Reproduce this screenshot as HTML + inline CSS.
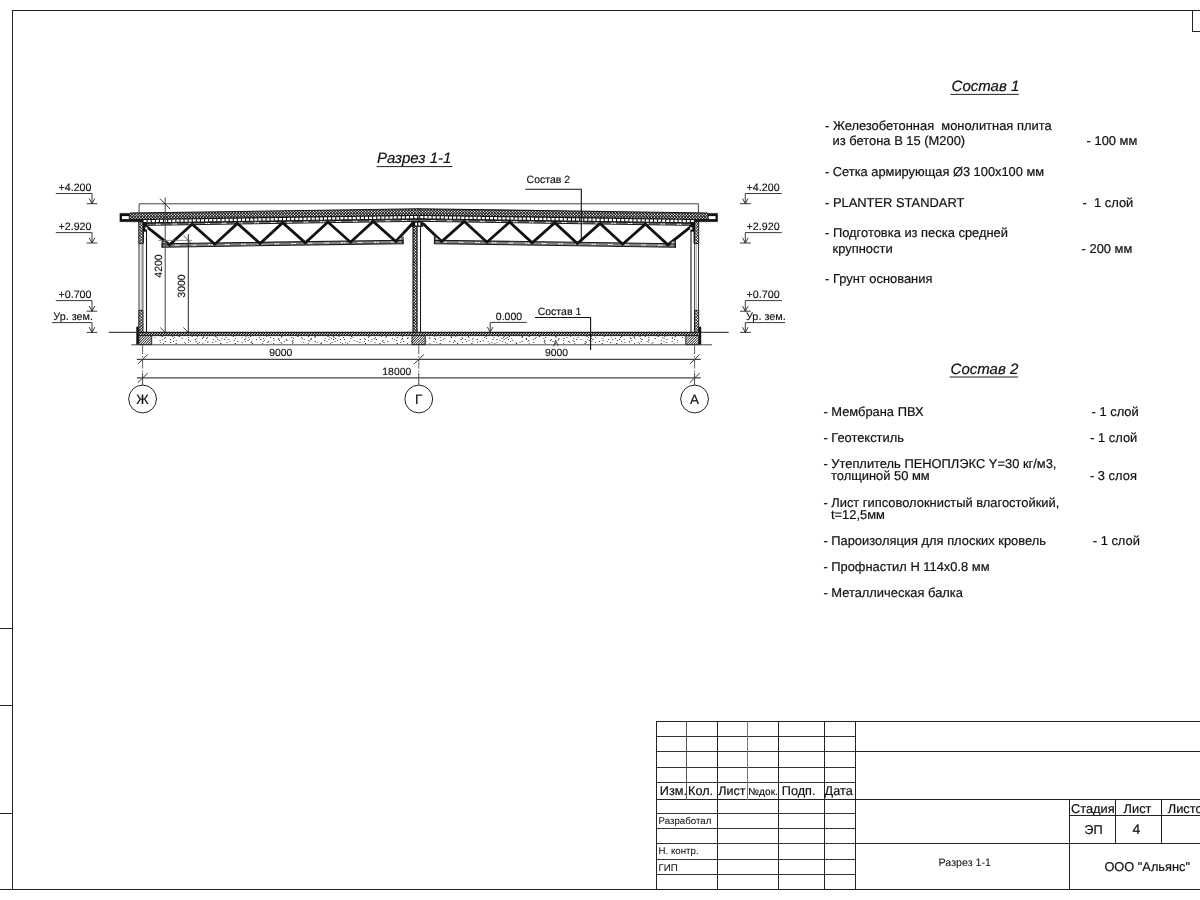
<!DOCTYPE html>
<html lang="ru"><head><meta charset="utf-8"><title>Разрез 1-1</title>
<style>html,body{margin:0;padding:0;background:#fff;}body{width:1200px;height:900px;overflow:hidden;}svg{display:block;}text{font-family:"Liberation Sans",Arial,sans-serif;fill:#111;text-rendering:geometricPrecision;stroke:#111;stroke-linejoin:round;}svg{will-change:transform;}</style>
</head><body>
<svg width="1200" height="900" viewBox="0 0 1200 900">
<defs>
<pattern id="xh" width="2.9" height="2.9" patternUnits="userSpaceOnUse"><rect width="2.9" height="2.9" fill="#111"/><path d="M1.45,-0.92L2.37,0.00L1.45,0.92L0.53,0.00ZM1.45,1.98L2.37,2.90L1.45,3.82L0.53,2.90ZM0.00,0.53L0.92,1.45L0.00,2.37L-0.92,1.45ZM2.90,0.53L3.82,1.45L2.90,2.37L1.98,1.45Z" fill="#fff"/></pattern>
<pattern id="pf" width="3.9" height="3" patternUnits="userSpaceOnUse"><rect width="3.9" height="3" fill="#1a1a1a"/><rect x="0.6" y="0" width="2.7" height="3" fill="#fff"/></pattern>
<pattern id="dh" width="2.4" height="2.4" patternUnits="userSpaceOnUse"><rect width="2.4" height="2.4" fill="#fff"/><path d="M-0.5,2.9L2.9,-0.5M-0.5,0.5L0.5,-0.5M1.9,2.9L2.9,1.9" stroke="#111" stroke-width="1.0"/></pattern>
<pattern id="fh" width="2.2" height="2.2" patternUnits="userSpaceOnUse"><rect width="2.2" height="2.2" fill="#fff"/><path d="M-0.5,2.7L2.7,-0.5M-0.5,0.5L0.5,-0.5M1.7,2.7L2.7,1.7" stroke="#222" stroke-width="0.75"/></pattern>
<pattern id="sd" width="60" height="9" patternUnits="userSpaceOnUse"><rect width="60" height="9" fill="#fff"/><g fill="#444"><circle cx="19.4" cy="1.8" r="0.35"/><circle cx="4.3" cy="4.8" r="0.5"/><circle cx="35.0" cy="7.7" r="0.4"/><circle cx="2.2" cy="4.0" r="0.35"/><circle cx="14.4" cy="4.9" r="0.35"/><circle cx="49.6" cy="1.6" r="0.4"/><circle cx="37.8" cy="5.1" r="0.35"/><circle cx="34.6" cy="3.7" r="0.4"/><circle cx="2.8" cy="7.3" r="0.5"/><circle cx="25.1" cy="4.8" r="0.5"/><circle cx="33.6" cy="5.9" r="0.35"/><circle cx="34.9" cy="5.6" r="0.5"/><circle cx="5.8" cy="6.2" r="0.35"/><circle cx="37.1" cy="4.5" r="0.55"/><circle cx="46.6" cy="4.2" r="0.55"/><circle cx="21.7" cy="2.5" r="0.4"/><circle cx="41.9" cy="2.5" r="0.5"/><circle cx="31.5" cy="7.4" r="0.55"/><circle cx="17.3" cy="8.2" r="0.35"/><circle cx="30.7" cy="1.9" r="0.5"/><circle cx="9.1" cy="4.4" r="0.35"/><circle cx="57.7" cy="1.2" r="0.5"/><circle cx="20.4" cy="3.3" r="0.55"/><circle cx="34.8" cy="4.2" r="0.35"/><circle cx="56.7" cy="4.3" r="0.35"/><circle cx="3.6" cy="6.1" r="0.55"/><circle cx="17.1" cy="3.6" r="0.5"/><circle cx="1.4" cy="4.2" r="0.4"/><circle cx="36.7" cy="4.5" r="0.4"/><circle cx="46.1" cy="1.6" r="0.4"/><circle cx="23.9" cy="7.8" r="0.55"/><circle cx="4.8" cy="4.1" r="0.5"/><circle cx="53.0" cy="7.0" r="0.5"/><circle cx="42.4" cy="8.3" r="0.55"/><circle cx="57.5" cy="1.8" r="0.4"/><circle cx="9.1" cy="5.7" r="0.35"/><circle cx="29.1" cy="5.2" r="0.5"/><circle cx="16.9" cy="1.7" r="0.5"/><circle cx="36.6" cy="3.1" r="0.4"/><circle cx="41.4" cy="4.6" r="0.35"/><circle cx="27.4" cy="7.4" r="0.55"/><circle cx="23.9" cy="3.7" r="0.55"/><circle cx="38.1" cy="1.1" r="0.35"/><circle cx="59.1" cy="4.0" r="0.35"/><circle cx="20.4" cy="1.0" r="0.35"/><circle cx="34.0" cy="4.8" r="0.5"/><circle cx="36.8" cy="1.1" r="0.4"/><circle cx="36.8" cy="1.8" r="0.5"/><circle cx="57.3" cy="5.3" r="0.55"/><circle cx="7.4" cy="7.2" r="0.55"/><circle cx="28.8" cy="3.0" r="0.4"/><circle cx="6.1" cy="3.3" r="0.5"/><circle cx="28.7" cy="6.0" r="0.35"/><circle cx="12.3" cy="8.0" r="0.5"/><circle cx="8.8" cy="4.8" r="0.35"/><circle cx="45.5" cy="2.9" r="0.35"/><circle cx="41.8" cy="2.6" r="0.5"/><circle cx="54.5" cy="3.4" r="0.4"/><circle cx="32.0" cy="6.7" r="0.5"/><circle cx="38.2" cy="5.4" r="0.4"/><circle cx="48.4" cy="7.0" r="0.4"/><circle cx="12.0" cy="4.4" r="0.35"/><circle cx="59.4" cy="6.8" r="0.55"/><circle cx="15.6" cy="6.0" r="0.5"/><circle cx="26.8" cy="7.9" r="0.5"/><circle cx="57.3" cy="3.4" r="0.4"/><circle cx="6.1" cy="4.3" r="0.5"/><circle cx="12.3" cy="5.5" r="0.35"/><circle cx="28.8" cy="5.7" r="0.35"/><circle cx="50.1" cy="1.5" r="0.55"/></g></pattern>
</defs>
<rect width="1200" height="900" fill="#fff"/>
<g id="frame" shape-rendering="crispEdges">
<line x1="12.50" y1="10.00" x2="12.50" y2="890.00" stroke="#222" stroke-width="1" />
<line x1="12.00" y1="10.50" x2="1200.00" y2="10.50" stroke="#222" stroke-width="1" />
<line x1="0.00" y1="889.50" x2="1200.00" y2="889.50" stroke="#222" stroke-width="1" />
<line x1="0.00" y1="628.50" x2="12.50" y2="628.50" stroke="#222" stroke-width="1" />
<line x1="0.00" y1="705.50" x2="12.50" y2="705.50" stroke="#222" stroke-width="1" />
<line x1="0.00" y1="813.50" x2="12.50" y2="813.50" stroke="#222" stroke-width="1" />
<line x1="1192.50" y1="10.50" x2="1192.50" y2="32.00" stroke="#222" stroke-width="1" />
<line x1="1192.00" y1="31.50" x2="1200.00" y2="31.50" stroke="#222" stroke-width="1" />
</g>
<g id="section">
<g id="halfL">
<clipPath id="c1"><polygon points="129.80,213.06 419.05,208.75 419.05,215.50 129.80,219.81"/></clipPath>
<g clip-path="url(#c1)">
<polygon points="129.80,213.06 419.05,208.75 419.05,215.50 129.80,219.81" fill="#fff"/>
<line x1="116.74" y1="214.28" x2="432.11" y2="214.28" stroke="#111" stroke-width="13.06" stroke-dasharray="1.18 1.720" stroke-dashoffset="2.495" transform="translate(0,214.28) skewX(45) translate(0,-214.28)"/>
<line x1="116.74" y1="214.28" x2="432.11" y2="214.28" stroke="#111" stroke-width="13.06" stroke-dasharray="1.18 1.720" stroke-dashoffset="2.495" transform="translate(0,214.28) skewX(-45) translate(0,-214.28)"/>
</g>
<line x1="129.80" y1="213.06" x2="418.95" y2="208.75" stroke="#1a1a1a" stroke-width="1.1" />
<line x1="129.80" y1="219.81" x2="418.95" y2="215.50" stroke="#1a1a1a" stroke-width="1.0" />
<polygon points="119.80,213.30 129.80,213.30 129.80,221.80 119.80,221.80" fill="#111" stroke="#1a1a1a" stroke-width="0.3" />
<rect x="122.00" y="216.10" width="6.80" height="3.00" fill="#fff" stroke="none" stroke-width="0" />
<polygon points="129.80,219.31 139.00,219.17 139.00,221.80 129.80,221.80" fill="#111" stroke="#1a1a1a" stroke-width="0.5" />
<polygon points="139.00,219.17 418.75,215.00 418.75,219.35 139.00,223.52" fill="#151515" stroke="#1a1a1a" stroke-width="0.4" />
<line x1="143.60" y1="221.20" x2="418.75" y2="217.10" stroke="#fff" stroke-width="2.3000000000000114" stroke-dasharray="3 1.1"/>
<polygon points="146.00,223.41 418.75,219.35 418.75,221.30 146.00,225.36" fill="#808080" stroke="#1a1a1a" stroke-width="1.0" />
<line x1="156.00" y1="224.24" x2="160.60" y2="224.17" stroke="#fff" stroke-width="1.0" stroke-dasharray="2 0.6"/>
<line x1="172.40" y1="224.00" x2="177.00" y2="223.93" stroke="#fff" stroke-width="1.0" stroke-dasharray="2 0.6"/>
<line x1="188.80" y1="223.75" x2="193.40" y2="223.68" stroke="#fff" stroke-width="1.0" stroke-dasharray="2 0.6"/>
<line x1="205.20" y1="223.51" x2="209.80" y2="223.44" stroke="#fff" stroke-width="1.0" stroke-dasharray="2 0.6"/>
<line x1="221.60" y1="223.26" x2="226.20" y2="223.19" stroke="#fff" stroke-width="1.0" stroke-dasharray="2 0.6"/>
<line x1="238.00" y1="223.02" x2="242.60" y2="222.95" stroke="#fff" stroke-width="1.0" stroke-dasharray="2 0.6"/>
<line x1="254.40" y1="222.77" x2="259.00" y2="222.71" stroke="#fff" stroke-width="1.0" stroke-dasharray="2 0.6"/>
<line x1="270.80" y1="222.53" x2="275.40" y2="222.46" stroke="#fff" stroke-width="1.0" stroke-dasharray="2 0.6"/>
<line x1="287.20" y1="222.29" x2="291.80" y2="222.22" stroke="#fff" stroke-width="1.0" stroke-dasharray="2 0.6"/>
<line x1="303.60" y1="222.04" x2="308.20" y2="221.97" stroke="#fff" stroke-width="1.0" stroke-dasharray="2 0.6"/>
<line x1="320.00" y1="221.80" x2="324.60" y2="221.73" stroke="#fff" stroke-width="1.0" stroke-dasharray="2 0.6"/>
<line x1="336.40" y1="221.55" x2="341.00" y2="221.48" stroke="#fff" stroke-width="1.0" stroke-dasharray="2 0.6"/>
<line x1="352.80" y1="221.31" x2="357.40" y2="221.24" stroke="#fff" stroke-width="1.0" stroke-dasharray="2 0.6"/>
<line x1="369.20" y1="221.06" x2="373.80" y2="220.99" stroke="#fff" stroke-width="1.0" stroke-dasharray="2 0.6"/>
<line x1="385.60" y1="220.82" x2="390.20" y2="220.75" stroke="#fff" stroke-width="1.0" stroke-dasharray="2 0.6"/>
<line x1="402.00" y1="220.57" x2="406.60" y2="220.51" stroke="#fff" stroke-width="1.0" stroke-dasharray="2 0.6"/>
<polygon points="162.20,243.79 403.00,240.20 403.00,243.60 162.20,247.19" fill="#808080" stroke="#1a1a1a" stroke-width="1.1" />
<line x1="175.00" y1="245.30" x2="179.60" y2="245.23" stroke="#fff" stroke-width="1.0" stroke-dasharray="2 0.6"/>
<line x1="191.60" y1="245.05" x2="196.20" y2="244.98" stroke="#fff" stroke-width="1.0" stroke-dasharray="2 0.6"/>
<line x1="208.20" y1="244.80" x2="212.80" y2="244.73" stroke="#fff" stroke-width="1.0" stroke-dasharray="2 0.6"/>
<line x1="224.80" y1="244.56" x2="229.40" y2="244.49" stroke="#fff" stroke-width="1.0" stroke-dasharray="2 0.6"/>
<line x1="241.40" y1="244.31" x2="246.00" y2="244.24" stroke="#fff" stroke-width="1.0" stroke-dasharray="2 0.6"/>
<line x1="258.00" y1="244.06" x2="262.60" y2="243.99" stroke="#fff" stroke-width="1.0" stroke-dasharray="2 0.6"/>
<line x1="274.60" y1="243.81" x2="279.20" y2="243.74" stroke="#fff" stroke-width="1.0" stroke-dasharray="2 0.6"/>
<line x1="291.20" y1="243.57" x2="295.80" y2="243.50" stroke="#fff" stroke-width="1.0" stroke-dasharray="2 0.6"/>
<line x1="307.80" y1="243.32" x2="312.40" y2="243.25" stroke="#fff" stroke-width="1.0" stroke-dasharray="2 0.6"/>
<line x1="324.40" y1="243.07" x2="329.00" y2="243.00" stroke="#fff" stroke-width="1.0" stroke-dasharray="2 0.6"/>
<line x1="341.00" y1="242.82" x2="345.60" y2="242.76" stroke="#fff" stroke-width="1.0" stroke-dasharray="2 0.6"/>
<line x1="357.60" y1="242.58" x2="362.20" y2="242.51" stroke="#fff" stroke-width="1.0" stroke-dasharray="2 0.6"/>
<line x1="374.20" y1="242.33" x2="378.80" y2="242.26" stroke="#fff" stroke-width="1.0" stroke-dasharray="2 0.6"/>
<line x1="390.80" y1="242.08" x2="395.40" y2="242.01" stroke="#fff" stroke-width="1.0" stroke-dasharray="2 0.6"/>
<line x1="162.20" y1="240.59" x2="162.20" y2="247.59" stroke="#1a1a1a" stroke-width="1.2" />
<line x1="403.00" y1="236.80" x2="403.00" y2="244.00" stroke="#1a1a1a" stroke-width="1.2" />
<polyline points="146.60,226.60 169.60,244.88 192.20,224.08 214.84,244.20 237.44,223.40 260.08,243.53 282.68,222.73 305.32,242.86 327.92,222.05 350.56,242.18 373.16,221.38 395.80,241.51 412.60,223.30" fill="none" stroke="#111" stroke-width="2.8" stroke-linejoin="miter"/>
<polygon points="163.60,243.47 167.60,243.41 163.60,240.57" fill="#fff" stroke="#1a1a1a" stroke-width="0.6" />
<polygon points="401.80,239.90 397.80,239.90 401.80,237.00" fill="#fff" stroke="#1a1a1a" stroke-width="0.6" />
<clipPath id="c2"><polygon points="138.80,221.80 143.00,221.80 143.00,243.60 138.80,243.60"/></clipPath>
<g clip-path="url(#c2)">
<polygon points="138.80,221.80 143.00,221.80 143.00,243.60 138.80,243.60" fill="#fff"/>
<line x1="115.00" y1="232.70" x2="166.80" y2="232.70" stroke="#111" stroke-width="23.80" stroke-dasharray="0.9 2.000" stroke-dashoffset="1.700" transform="translate(0,232.70) skewX(45) translate(0,-232.70)"/>
<line x1="115.00" y1="232.70" x2="166.80" y2="232.70" stroke="#111" stroke-width="23.80" stroke-dasharray="0.9 2.000" stroke-dashoffset="1.700" transform="translate(0,232.70) skewX(-45) translate(0,-232.70)"/>
</g>
<polygon points="138.80,221.80 143.00,221.80 143.00,243.60 138.80,243.60" fill="none" stroke="#1a1a1a" stroke-width="1.0"/>
<clipPath id="c3"><polygon points="138.80,310.40 143.00,310.40 143.00,332.40 138.80,332.40"/></clipPath>
<g clip-path="url(#c3)">
<polygon points="138.80,310.40 143.00,310.40 143.00,332.40 138.80,332.40" fill="#fff"/>
<line x1="114.80" y1="321.40" x2="167.00" y2="321.40" stroke="#111" stroke-width="24.00" stroke-dasharray="0.9 2.000" stroke-dashoffset="1.500" transform="translate(0,321.40) skewX(45) translate(0,-321.40)"/>
<line x1="114.80" y1="321.40" x2="167.00" y2="321.40" stroke="#111" stroke-width="24.00" stroke-dasharray="0.9 2.000" stroke-dashoffset="1.500" transform="translate(0,321.40) skewX(-45) translate(0,-321.40)"/>
</g>
<polygon points="138.80,310.40 143.00,310.40 143.00,332.40 138.80,332.40" fill="none" stroke="#1a1a1a" stroke-width="1.0"/>
<line x1="139.00" y1="243.50" x2="139.00" y2="310.50" stroke="#1a1a1a" stroke-width="0.9" />
<line x1="141.20" y1="243.50" x2="141.20" y2="310.50" stroke="#777" stroke-width="0.6" />
<line x1="142.90" y1="243.50" x2="142.90" y2="310.50" stroke="#333" stroke-width="0.9" />
<line x1="146.50" y1="231.00" x2="146.50" y2="332.30" stroke="#1a1a1a" stroke-width="1.1" />
<line x1="143.50" y1="231.00" x2="143.50" y2="243.50" stroke="#1a1a1a" stroke-width="0.9" />
<rect x="143.00" y="222.20" width="3.80" height="9.30" fill="#111" stroke="#1a1a1a" stroke-width="0.4" />
<rect x="145.20" y="227.30" width="2.20" height="2.20" fill="#fff" stroke="none" stroke-width="0" />
<rect x="136.30" y="327.60" width="2.60" height="17.20" fill="#111" stroke="none" stroke-width="0" />
<circle cx="137.4" cy="327.6" r="1.1" fill="#111"/>
<line x1="108.80" y1="332.30" x2="136.50" y2="332.30" stroke="#1a1a1a" stroke-width="1" />
<clipPath id="c4"><polygon points="139.00,332.30 418.75,332.30 418.75,335.60 139.00,335.60"/></clipPath>
<g clip-path="url(#c4)">
<polygon points="139.00,332.30 418.75,332.30 418.75,335.60 139.00,335.60" fill="#111"/>
<line x1="133.70" y1="333.95" x2="424.05" y2="333.95" stroke="#fff" stroke-width="5.30" stroke-dasharray="1.0 1.700" stroke-dashoffset="1.150" transform="translate(0,333.95) skewX(-45) translate(0,-333.95)"/>
</g>
<line x1="139.00" y1="332.40" x2="418.75" y2="332.40" stroke="#1a1a1a" stroke-width="1.2" />
<line x1="139.00" y1="335.60" x2="418.75" y2="335.60" stroke="#1a1a1a" stroke-width="1.0" />
<line x1="151.8" y1="336.50" x2="418.8" y2="336.50" stroke="#333" stroke-width="1.0" stroke-dasharray="1.2 15.1 1.2 9.3 1.0 5.6 1.2 11.8 1.0 4.3 1.0 5.0 0.8 11.3 1.2 16.5 1.0 11.7 0.8 3.8 1.0 15.3 0.8 13.9" stroke-dashoffset="6.5"/>
<line x1="151.8" y1="337.50" x2="418.8" y2="337.50" stroke="#333" stroke-width="0.9" stroke-dasharray="1.0 10.3 1.0 10.0 0.8 9.4 1.0 8.7 0.8 12.9 1.0 13.6 1.0 3.4 0.8 8.6 1.0 8.4 0.8 14.9 0.8 6.0 0.8 9.6" stroke-dashoffset="19.6"/>
<line x1="151.8" y1="338.50" x2="418.8" y2="338.50" stroke="#333" stroke-width="0.9" stroke-dasharray="1.2 4.0 1.0 13.9 1.0 7.7 1.0 7.7 1.2 13.6 0.8 4.9 0.8 3.2 1.2 14.2 1.0 12.5 1.0 9.3 1.0 16.8 1.0 8.9" stroke-dashoffset="7.7"/>
<line x1="151.8" y1="339.50" x2="418.8" y2="339.50" stroke="#333" stroke-width="1.0" stroke-dasharray="1.2 16.9 0.8 6.8 1.0 17.0 0.8 5.9 1.2 16.9 0.8 3.6 1.0 6.0 1.0 3.1 1.0 14.6 1.2 4.0 0.8 5.9 1.0 3.2" stroke-dashoffset="7.4"/>
<line x1="151.8" y1="340.50" x2="418.8" y2="340.50" stroke="#333" stroke-width="0.9" stroke-dasharray="1.2 4.8 1.2 14.7 1.0 15.1 1.0 11.8 1.0 15.7 1.0 13.2 1.0 13.4 1.0 12.6 1.2 15.4 0.8 8.9 0.8 4.5 1.0 6.3" stroke-dashoffset="14.1"/>
<line x1="151.8" y1="341.50" x2="418.8" y2="341.50" stroke="#333" stroke-width="0.9" stroke-dasharray="1.2 14.5 1.2 7.1 1.0 16.0 0.8 4.8 1.2 10.8 0.8 6.9 1.0 13.5 0.8 6.8 1.2 6.5 0.8 5.5 1.0 10.4 1.0 4.3" stroke-dashoffset="2.8"/>
<line x1="151.8" y1="342.50" x2="418.8" y2="342.50" stroke="#333" stroke-width="0.9" stroke-dasharray="1.0 12.2 1.0 11.3 0.8 9.6 1.0 12.8 0.8 3.3 0.8 9.8 1.0 7.5 0.8 4.1 1.0 13.3 1.0 14.1 1.0 7.9 1.2 15.6" stroke-dashoffset="17.4"/>
<line x1="151.8" y1="343.50" x2="418.8" y2="343.50" stroke="#333" stroke-width="1.0" stroke-dasharray="0.8 15.1 0.8 11.7 1.2 8.3 0.8 11.5 0.8 4.3 0.8 16.9 1.2 13.2 1.2 16.1 1.2 9.2 0.8 10.3 0.8 7.3 0.8 9.7" stroke-dashoffset="4.6"/>
<clipPath id="c5"><polygon points="138.90,335.60 151.70,335.60 151.70,344.60 138.90,344.60"/></clipPath>
<g clip-path="url(#c5)">
<polygon points="138.90,335.60 151.70,335.60 151.70,344.60 138.90,344.60" fill="#fff"/>
<line x1="127.90" y1="340.10" x2="162.70" y2="340.10" stroke="#222" stroke-width="11.00" stroke-dasharray="1.1 1.400" stroke-dashoffset="1.400" transform="translate(0,340.10) skewX(-45) translate(0,-340.10)"/>
</g>
<polygon points="138.90,335.60 151.70,335.60 151.70,344.60 138.90,344.60" fill="none" stroke="#1a1a1a" stroke-width="0.9"/>
<line x1="131.30" y1="344.80" x2="418.75" y2="344.80" stroke="#333" stroke-width="0.9" />
</g>
<g id="halfR" transform="translate(837.50,0) scale(-1,1)">
<clipPath id="c6"><polygon points="129.80,213.06 419.05,208.75 419.05,215.50 129.80,219.81"/></clipPath>
<g clip-path="url(#c6)">
<polygon points="129.80,213.06 419.05,208.75 419.05,215.50 129.80,219.81" fill="#fff"/>
<line x1="116.74" y1="214.28" x2="432.11" y2="214.28" stroke="#111" stroke-width="13.06" stroke-dasharray="1.18 1.720" stroke-dashoffset="2.495" transform="translate(0,214.28) skewX(45) translate(0,-214.28)"/>
<line x1="116.74" y1="214.28" x2="432.11" y2="214.28" stroke="#111" stroke-width="13.06" stroke-dasharray="1.18 1.720" stroke-dashoffset="2.495" transform="translate(0,214.28) skewX(-45) translate(0,-214.28)"/>
</g>
<line x1="129.80" y1="213.06" x2="418.95" y2="208.75" stroke="#1a1a1a" stroke-width="1.1" />
<line x1="129.80" y1="219.81" x2="418.95" y2="215.50" stroke="#1a1a1a" stroke-width="1.0" />
<polygon points="119.80,213.30 129.80,213.30 129.80,221.80 119.80,221.80" fill="#111" stroke="#1a1a1a" stroke-width="0.3" />
<rect x="122.00" y="216.10" width="6.80" height="3.00" fill="#fff" stroke="none" stroke-width="0" />
<polygon points="129.80,219.31 139.00,219.17 139.00,221.80 129.80,221.80" fill="#111" stroke="#1a1a1a" stroke-width="0.5" />
<polygon points="139.00,219.17 418.75,215.00 418.75,219.35 139.00,223.52" fill="#151515" stroke="#1a1a1a" stroke-width="0.4" />
<line x1="143.60" y1="221.20" x2="418.75" y2="217.10" stroke="#fff" stroke-width="2.3000000000000114" stroke-dasharray="3 1.1"/>
<polygon points="146.00,223.41 418.75,219.35 418.75,221.30 146.00,225.36" fill="#808080" stroke="#1a1a1a" stroke-width="1.0" />
<line x1="156.00" y1="224.24" x2="160.60" y2="224.17" stroke="#fff" stroke-width="1.0" stroke-dasharray="2 0.6"/>
<line x1="172.40" y1="224.00" x2="177.00" y2="223.93" stroke="#fff" stroke-width="1.0" stroke-dasharray="2 0.6"/>
<line x1="188.80" y1="223.75" x2="193.40" y2="223.68" stroke="#fff" stroke-width="1.0" stroke-dasharray="2 0.6"/>
<line x1="205.20" y1="223.51" x2="209.80" y2="223.44" stroke="#fff" stroke-width="1.0" stroke-dasharray="2 0.6"/>
<line x1="221.60" y1="223.26" x2="226.20" y2="223.19" stroke="#fff" stroke-width="1.0" stroke-dasharray="2 0.6"/>
<line x1="238.00" y1="223.02" x2="242.60" y2="222.95" stroke="#fff" stroke-width="1.0" stroke-dasharray="2 0.6"/>
<line x1="254.40" y1="222.77" x2="259.00" y2="222.71" stroke="#fff" stroke-width="1.0" stroke-dasharray="2 0.6"/>
<line x1="270.80" y1="222.53" x2="275.40" y2="222.46" stroke="#fff" stroke-width="1.0" stroke-dasharray="2 0.6"/>
<line x1="287.20" y1="222.29" x2="291.80" y2="222.22" stroke="#fff" stroke-width="1.0" stroke-dasharray="2 0.6"/>
<line x1="303.60" y1="222.04" x2="308.20" y2="221.97" stroke="#fff" stroke-width="1.0" stroke-dasharray="2 0.6"/>
<line x1="320.00" y1="221.80" x2="324.60" y2="221.73" stroke="#fff" stroke-width="1.0" stroke-dasharray="2 0.6"/>
<line x1="336.40" y1="221.55" x2="341.00" y2="221.48" stroke="#fff" stroke-width="1.0" stroke-dasharray="2 0.6"/>
<line x1="352.80" y1="221.31" x2="357.40" y2="221.24" stroke="#fff" stroke-width="1.0" stroke-dasharray="2 0.6"/>
<line x1="369.20" y1="221.06" x2="373.80" y2="220.99" stroke="#fff" stroke-width="1.0" stroke-dasharray="2 0.6"/>
<line x1="385.60" y1="220.82" x2="390.20" y2="220.75" stroke="#fff" stroke-width="1.0" stroke-dasharray="2 0.6"/>
<line x1="402.00" y1="220.57" x2="406.60" y2="220.51" stroke="#fff" stroke-width="1.0" stroke-dasharray="2 0.6"/>
<polygon points="162.20,243.79 403.00,240.20 403.00,243.60 162.20,247.19" fill="#808080" stroke="#1a1a1a" stroke-width="1.1" />
<line x1="175.00" y1="245.30" x2="179.60" y2="245.23" stroke="#fff" stroke-width="1.0" stroke-dasharray="2 0.6"/>
<line x1="191.60" y1="245.05" x2="196.20" y2="244.98" stroke="#fff" stroke-width="1.0" stroke-dasharray="2 0.6"/>
<line x1="208.20" y1="244.80" x2="212.80" y2="244.73" stroke="#fff" stroke-width="1.0" stroke-dasharray="2 0.6"/>
<line x1="224.80" y1="244.56" x2="229.40" y2="244.49" stroke="#fff" stroke-width="1.0" stroke-dasharray="2 0.6"/>
<line x1="241.40" y1="244.31" x2="246.00" y2="244.24" stroke="#fff" stroke-width="1.0" stroke-dasharray="2 0.6"/>
<line x1="258.00" y1="244.06" x2="262.60" y2="243.99" stroke="#fff" stroke-width="1.0" stroke-dasharray="2 0.6"/>
<line x1="274.60" y1="243.81" x2="279.20" y2="243.74" stroke="#fff" stroke-width="1.0" stroke-dasharray="2 0.6"/>
<line x1="291.20" y1="243.57" x2="295.80" y2="243.50" stroke="#fff" stroke-width="1.0" stroke-dasharray="2 0.6"/>
<line x1="307.80" y1="243.32" x2="312.40" y2="243.25" stroke="#fff" stroke-width="1.0" stroke-dasharray="2 0.6"/>
<line x1="324.40" y1="243.07" x2="329.00" y2="243.00" stroke="#fff" stroke-width="1.0" stroke-dasharray="2 0.6"/>
<line x1="341.00" y1="242.82" x2="345.60" y2="242.76" stroke="#fff" stroke-width="1.0" stroke-dasharray="2 0.6"/>
<line x1="357.60" y1="242.58" x2="362.20" y2="242.51" stroke="#fff" stroke-width="1.0" stroke-dasharray="2 0.6"/>
<line x1="374.20" y1="242.33" x2="378.80" y2="242.26" stroke="#fff" stroke-width="1.0" stroke-dasharray="2 0.6"/>
<line x1="390.80" y1="242.08" x2="395.40" y2="242.01" stroke="#fff" stroke-width="1.0" stroke-dasharray="2 0.6"/>
<line x1="162.20" y1="240.59" x2="162.20" y2="247.59" stroke="#1a1a1a" stroke-width="1.2" />
<line x1="403.00" y1="236.80" x2="403.00" y2="244.00" stroke="#1a1a1a" stroke-width="1.2" />
<polyline points="146.60,226.60 169.60,244.88 192.20,224.08 214.84,244.20 237.44,223.40 260.08,243.53 282.68,222.73 305.32,242.86 327.92,222.05 350.56,242.18 373.16,221.38 395.80,241.51 414.80,223.30" fill="none" stroke="#111" stroke-width="2.8" stroke-linejoin="miter"/>
<polygon points="163.60,243.47 167.60,243.41 163.60,240.57" fill="#fff" stroke="#1a1a1a" stroke-width="0.6" />
<polygon points="401.80,239.90 397.80,239.90 401.80,237.00" fill="#fff" stroke="#1a1a1a" stroke-width="0.6" />
<clipPath id="c7"><polygon points="138.80,221.80 143.00,221.80 143.00,243.60 138.80,243.60"/></clipPath>
<g clip-path="url(#c7)">
<polygon points="138.80,221.80 143.00,221.80 143.00,243.60 138.80,243.60" fill="#fff"/>
<line x1="115.00" y1="232.70" x2="166.80" y2="232.70" stroke="#111" stroke-width="23.80" stroke-dasharray="0.9 2.000" stroke-dashoffset="1.700" transform="translate(0,232.70) skewX(45) translate(0,-232.70)"/>
<line x1="115.00" y1="232.70" x2="166.80" y2="232.70" stroke="#111" stroke-width="23.80" stroke-dasharray="0.9 2.000" stroke-dashoffset="1.700" transform="translate(0,232.70) skewX(-45) translate(0,-232.70)"/>
</g>
<polygon points="138.80,221.80 143.00,221.80 143.00,243.60 138.80,243.60" fill="none" stroke="#1a1a1a" stroke-width="1.0"/>
<clipPath id="c8"><polygon points="138.80,310.40 143.00,310.40 143.00,332.40 138.80,332.40"/></clipPath>
<g clip-path="url(#c8)">
<polygon points="138.80,310.40 143.00,310.40 143.00,332.40 138.80,332.40" fill="#fff"/>
<line x1="114.80" y1="321.40" x2="167.00" y2="321.40" stroke="#111" stroke-width="24.00" stroke-dasharray="0.9 2.000" stroke-dashoffset="1.500" transform="translate(0,321.40) skewX(45) translate(0,-321.40)"/>
<line x1="114.80" y1="321.40" x2="167.00" y2="321.40" stroke="#111" stroke-width="24.00" stroke-dasharray="0.9 2.000" stroke-dashoffset="1.500" transform="translate(0,321.40) skewX(-45) translate(0,-321.40)"/>
</g>
<polygon points="138.80,310.40 143.00,310.40 143.00,332.40 138.80,332.40" fill="none" stroke="#1a1a1a" stroke-width="1.0"/>
<line x1="139.00" y1="243.50" x2="139.00" y2="310.50" stroke="#1a1a1a" stroke-width="0.9" />
<line x1="141.20" y1="243.50" x2="141.20" y2="310.50" stroke="#777" stroke-width="0.6" />
<line x1="142.90" y1="243.50" x2="142.90" y2="310.50" stroke="#333" stroke-width="0.9" />
<line x1="146.50" y1="231.00" x2="146.50" y2="332.30" stroke="#1a1a1a" stroke-width="1.1" />
<line x1="143.50" y1="231.00" x2="143.50" y2="243.50" stroke="#1a1a1a" stroke-width="0.9" />
<rect x="143.00" y="222.20" width="3.80" height="9.30" fill="#111" stroke="#1a1a1a" stroke-width="0.4" />
<rect x="145.20" y="227.30" width="2.20" height="2.20" fill="#fff" stroke="none" stroke-width="0" />
<rect x="136.30" y="327.60" width="2.60" height="17.20" fill="#111" stroke="none" stroke-width="0" />
<circle cx="137.4" cy="327.6" r="1.1" fill="#111"/>
<line x1="108.80" y1="332.30" x2="136.50" y2="332.30" stroke="#1a1a1a" stroke-width="1" />
<clipPath id="c9"><polygon points="139.00,332.30 418.75,332.30 418.75,335.60 139.00,335.60"/></clipPath>
<g clip-path="url(#c9)">
<polygon points="139.00,332.30 418.75,332.30 418.75,335.60 139.00,335.60" fill="#111"/>
<line x1="133.70" y1="333.95" x2="424.05" y2="333.95" stroke="#fff" stroke-width="5.30" stroke-dasharray="1.0 1.700" stroke-dashoffset="1.150" transform="translate(0,333.95) skewX(45) translate(0,-333.95)"/>
</g>
<line x1="139.00" y1="332.40" x2="418.75" y2="332.40" stroke="#1a1a1a" stroke-width="1.2" />
<line x1="139.00" y1="335.60" x2="418.75" y2="335.60" stroke="#1a1a1a" stroke-width="1.0" />
<line x1="151.8" y1="336.50" x2="418.8" y2="336.50" stroke="#333" stroke-width="1.0" stroke-dasharray="1.2 15.1 1.2 9.3 1.0 5.6 1.2 11.8 1.0 4.3 1.0 5.0 0.8 11.3 1.2 16.5 1.0 11.7 0.8 3.8 1.0 15.3 0.8 13.9" stroke-dashoffset="6.5"/>
<line x1="151.8" y1="337.50" x2="418.8" y2="337.50" stroke="#333" stroke-width="0.9" stroke-dasharray="1.0 10.3 1.0 10.0 0.8 9.4 1.0 8.7 0.8 12.9 1.0 13.6 1.0 3.4 0.8 8.6 1.0 8.4 0.8 14.9 0.8 6.0 0.8 9.6" stroke-dashoffset="19.6"/>
<line x1="151.8" y1="338.50" x2="418.8" y2="338.50" stroke="#333" stroke-width="0.9" stroke-dasharray="1.2 4.0 1.0 13.9 1.0 7.7 1.0 7.7 1.2 13.6 0.8 4.9 0.8 3.2 1.2 14.2 1.0 12.5 1.0 9.3 1.0 16.8 1.0 8.9" stroke-dashoffset="7.7"/>
<line x1="151.8" y1="339.50" x2="418.8" y2="339.50" stroke="#333" stroke-width="1.0" stroke-dasharray="1.2 16.9 0.8 6.8 1.0 17.0 0.8 5.9 1.2 16.9 0.8 3.6 1.0 6.0 1.0 3.1 1.0 14.6 1.2 4.0 0.8 5.9 1.0 3.2" stroke-dashoffset="7.4"/>
<line x1="151.8" y1="340.50" x2="418.8" y2="340.50" stroke="#333" stroke-width="0.9" stroke-dasharray="1.2 4.8 1.2 14.7 1.0 15.1 1.0 11.8 1.0 15.7 1.0 13.2 1.0 13.4 1.0 12.6 1.2 15.4 0.8 8.9 0.8 4.5 1.0 6.3" stroke-dashoffset="14.1"/>
<line x1="151.8" y1="341.50" x2="418.8" y2="341.50" stroke="#333" stroke-width="0.9" stroke-dasharray="1.2 14.5 1.2 7.1 1.0 16.0 0.8 4.8 1.2 10.8 0.8 6.9 1.0 13.5 0.8 6.8 1.2 6.5 0.8 5.5 1.0 10.4 1.0 4.3" stroke-dashoffset="2.8"/>
<line x1="151.8" y1="342.50" x2="418.8" y2="342.50" stroke="#333" stroke-width="0.9" stroke-dasharray="1.0 12.2 1.0 11.3 0.8 9.6 1.0 12.8 0.8 3.3 0.8 9.8 1.0 7.5 0.8 4.1 1.0 13.3 1.0 14.1 1.0 7.9 1.2 15.6" stroke-dashoffset="17.4"/>
<line x1="151.8" y1="343.50" x2="418.8" y2="343.50" stroke="#333" stroke-width="1.0" stroke-dasharray="0.8 15.1 0.8 11.7 1.2 8.3 0.8 11.5 0.8 4.3 0.8 16.9 1.2 13.2 1.2 16.1 1.2 9.2 0.8 10.3 0.8 7.3 0.8 9.7" stroke-dashoffset="4.6"/>
<clipPath id="c10"><polygon points="138.90,335.60 151.70,335.60 151.70,344.60 138.90,344.60"/></clipPath>
<g clip-path="url(#c10)">
<polygon points="138.90,335.60 151.70,335.60 151.70,344.60 138.90,344.60" fill="#fff"/>
<line x1="127.90" y1="340.10" x2="162.70" y2="340.10" stroke="#222" stroke-width="11.00" stroke-dasharray="1.1 1.400" stroke-dashoffset="1.400" transform="translate(0,340.10) skewX(45) translate(0,-340.10)"/>
</g>
<polygon points="138.90,335.60 151.70,335.60 151.70,344.60 138.90,344.60" fill="none" stroke="#1a1a1a" stroke-width="0.9"/>
<line x1="131.30" y1="344.80" x2="418.75" y2="344.80" stroke="#333" stroke-width="0.9" />
</g>
<line x1="706.00" y1="344.80" x2="712.00" y2="344.80" stroke="#333" stroke-width="0.9" />
<clipPath id="c11"><polygon points="413.00,226.50 417.10,226.50 417.10,332.30 413.00,332.30"/></clipPath>
<g clip-path="url(#c11)">
<polygon points="413.00,226.50 417.10,226.50 417.10,332.30 413.00,332.30" fill="#fff"/>
<line x1="305.20" y1="279.40" x2="524.90" y2="279.40" stroke="#111" stroke-width="107.80" stroke-dasharray="1.05 1.850" stroke-dashoffset="1.800" transform="translate(0,279.40) skewX(45) translate(0,-279.40)"/>
<line x1="305.20" y1="279.40" x2="524.90" y2="279.40" stroke="#111" stroke-width="107.80" stroke-dasharray="1.05 1.850" stroke-dashoffset="1.800" transform="translate(0,279.40) skewX(-45) translate(0,-279.40)"/>
</g>
<polygon points="413.00,226.50 417.10,226.50 417.10,332.30 413.00,332.30" fill="none" stroke="#1a1a1a" stroke-width="1.15"/>
<line x1="420.50" y1="226.50" x2="420.50" y2="332.30" stroke="#1a1a1a" stroke-width="1.1" />
<rect x="411.80" y="221.60" width="10.80" height="5.00" fill="#111" stroke="#1a1a1a" stroke-width="0.8" />
<rect x="415.20" y="222.60" width="1.90" height="3.00" fill="#fff" stroke="none" stroke-width="0" />
<rect x="418.40" y="222.60" width="1.90" height="3.00" fill="#fff" stroke="none" stroke-width="0" />
<clipPath id="c12"><polygon points="412.00,335.60 425.30,335.60 425.30,344.60 412.00,344.60"/></clipPath>
<g clip-path="url(#c12)">
<polygon points="412.00,335.60 425.30,335.60 425.30,344.60 412.00,344.60" fill="#fff"/>
<line x1="401.00" y1="340.10" x2="436.30" y2="340.10" stroke="#222" stroke-width="11.00" stroke-dasharray="1.1 1.400" stroke-dashoffset="1.500" transform="translate(0,340.10) skewX(-45) translate(0,-340.10)"/>
</g>
<polygon points="412.00,335.60 425.30,335.60 425.30,344.60 412.00,344.60" fill="none" stroke="#1a1a1a" stroke-width="0.9"/>
</g>
<g id="dims" class="t">
<polyline points="139.10,213.20 139.10,203.80 698.40,203.80 698.40,213.20" fill="none" stroke="#444" stroke-width="1.0" stroke-linejoin="round"/>
<line x1="165.20" y1="197.50" x2="165.20" y2="332.30" stroke="#444" stroke-width="1.0" />
<line x1="160.00" y1="198.60" x2="169.90" y2="208.90" stroke="#222" stroke-width="0.9" />
<line x1="160.30" y1="327.60" x2="165.40" y2="332.60" stroke="#222" stroke-width="0.9" />
<text x="0.00" y="0.00" font-size="10.5" text-anchor="middle" stroke-width="0.14" transform="translate(162.4,266) rotate(-90)">4200</text>
<line x1="188.30" y1="234.20" x2="188.30" y2="332.30" stroke="#222" stroke-width="1.0" />
<line x1="158.40" y1="240.40" x2="192.00" y2="240.40" stroke="#666" stroke-width="0.7" />
<line x1="183.40" y1="235.60" x2="192.60" y2="244.80" stroke="#333" stroke-width="0.8" />
<line x1="183.40" y1="327.60" x2="188.50" y2="332.60" stroke="#222" stroke-width="0.9" />
<text x="0.00" y="0.00" font-size="10.5" text-anchor="middle" stroke-width="0.14" transform="translate(184.9,286) rotate(-90)">3000</text>
<line x1="142.60" y1="345.00" x2="142.60" y2="373.00" stroke="#555" stroke-width="0.9" stroke-dasharray="9 2 1.5 2"/>
<line x1="142.60" y1="373.00" x2="142.60" y2="385.20" stroke="#333" stroke-width="0.9" />
<circle cx="142.60" cy="399.0" r="13.9" fill="#fff" stroke="#222" stroke-width="1"/>
<text x="142.60" y="404.10" font-size="13.5" text-anchor="middle" stroke-width="0.2" >Ж</text>
<line x1="137.70" y1="364.10" x2="147.70" y2="354.50" stroke="#222" stroke-width="0.9" />
<line x1="137.70" y1="382.70" x2="147.70" y2="373.10" stroke="#222" stroke-width="0.9" />
<line x1="418.75" y1="345.00" x2="418.75" y2="373.00" stroke="#555" stroke-width="0.9" stroke-dasharray="9 2 1.5 2"/>
<line x1="418.75" y1="373.00" x2="418.75" y2="385.20" stroke="#333" stroke-width="0.9" />
<circle cx="418.75" cy="399.0" r="13.9" fill="#fff" stroke="#222" stroke-width="1"/>
<text x="418.75" y="404.10" font-size="13.5" text-anchor="middle" stroke-width="0.2" >Г</text>
<line x1="413.85" y1="364.10" x2="423.85" y2="354.50" stroke="#222" stroke-width="0.9" />
<line x1="694.60" y1="345.00" x2="694.60" y2="373.00" stroke="#555" stroke-width="0.9" stroke-dasharray="9 2 1.5 2"/>
<line x1="694.60" y1="373.00" x2="694.60" y2="385.20" stroke="#333" stroke-width="0.9" />
<circle cx="694.60" cy="399.0" r="13.9" fill="#fff" stroke="#222" stroke-width="1"/>
<text x="694.60" y="404.10" font-size="13.5" text-anchor="middle" stroke-width="0.2" >А</text>
<line x1="689.70" y1="364.10" x2="699.70" y2="354.50" stroke="#222" stroke-width="0.9" />
<line x1="689.70" y1="382.70" x2="699.70" y2="373.10" stroke="#222" stroke-width="0.9" />
<line x1="136.80" y1="359.35" x2="700.80" y2="359.35" stroke="#444" stroke-width="1.15" />
<line x1="136.80" y1="377.90" x2="700.80" y2="377.90" stroke="#444" stroke-width="1.1" />
<text x="280.70" y="355.70" font-size="10.4" text-anchor="middle" stroke-width="0.14" >9000</text>
<text x="556.50" y="355.70" font-size="10.4" text-anchor="middle" stroke-width="0.14" >9000</text>
<text x="396.80" y="374.70" font-size="10.4" text-anchor="middle" stroke-width="0.14" >18000</text>
<polyline points="553.80,346.60 555.60,340.20 558.20,346.00" fill="none" stroke="#222" stroke-width="0.8" />
<text x="91.50" y="190.60" font-size="10.7" text-anchor="end" stroke-width="0.14" >+4.200</text>
<polyline points="55.80,193.50 92.00,193.50 92.00,203.70" fill="none" stroke="#222" stroke-width="0.9" />
<polyline points="89.20,198.50 92.00,203.70 94.80,198.50" fill="none" stroke="#222" stroke-width="0.9" />
<line x1="86.70" y1="203.70" x2="97.20" y2="203.70" stroke="#222" stroke-width="0.9" />
<text x="91.50" y="229.60" font-size="10.7" text-anchor="end" stroke-width="0.14" >+2.920</text>
<polyline points="55.80,232.60 92.00,232.60 92.00,243.00" fill="none" stroke="#222" stroke-width="0.9" />
<polyline points="89.20,237.80 92.00,243.00 94.80,237.80" fill="none" stroke="#222" stroke-width="0.9" />
<line x1="86.70" y1="243.00" x2="97.20" y2="243.00" stroke="#222" stroke-width="0.9" />
<text x="91.50" y="297.90" font-size="10.7" text-anchor="end" stroke-width="0.14" >+0.700</text>
<polyline points="55.80,300.60 92.00,300.60 92.00,311.20" fill="none" stroke="#222" stroke-width="0.9" />
<polyline points="89.20,306.00 92.00,311.20 94.80,306.00" fill="none" stroke="#222" stroke-width="0.9" />
<line x1="86.70" y1="311.20" x2="97.20" y2="311.20" stroke="#222" stroke-width="0.9" />
<text x="93.00" y="319.90" font-size="10.8" text-anchor="end" stroke-width="0.14" >Ур. зем.</text>
<polyline points="52.00,322.60 92.00,322.60 92.00,332.40" fill="none" stroke="#222" stroke-width="0.9" />
<polyline points="89.20,327.20 92.00,332.40 94.80,327.20" fill="none" stroke="#222" stroke-width="0.9" />
<line x1="86.70" y1="332.40" x2="97.20" y2="332.40" stroke="#222" stroke-width="0.9" />
<text x="746.60" y="190.60" font-size="10.7" text-anchor="start" stroke-width="0.14" >+4.200</text>
<polyline points="781.80,193.50 745.30,193.50 745.30,203.70" fill="none" stroke="#222" stroke-width="0.9" />
<polyline points="742.50,198.50 745.30,203.70 748.10,198.50" fill="none" stroke="#222" stroke-width="0.9" />
<line x1="740.00" y1="203.70" x2="750.80" y2="203.70" stroke="#222" stroke-width="0.9" />
<text x="746.60" y="229.60" font-size="10.7" text-anchor="start" stroke-width="0.14" >+2.920</text>
<polyline points="781.80,232.60 745.30,232.60 745.30,243.00" fill="none" stroke="#222" stroke-width="0.9" />
<polyline points="742.50,237.80 745.30,243.00 748.10,237.80" fill="none" stroke="#222" stroke-width="0.9" />
<line x1="740.00" y1="243.00" x2="750.80" y2="243.00" stroke="#222" stroke-width="0.9" />
<text x="746.60" y="297.90" font-size="10.7" text-anchor="start" stroke-width="0.14" >+0.700</text>
<polyline points="781.80,300.60 745.30,300.60 745.30,311.20" fill="none" stroke="#222" stroke-width="0.9" />
<polyline points="742.50,306.00 745.30,311.20 748.10,306.00" fill="none" stroke="#222" stroke-width="0.9" />
<line x1="740.00" y1="311.20" x2="750.80" y2="311.20" stroke="#222" stroke-width="0.9" />
<text x="746.00" y="319.90" font-size="10.8" text-anchor="start" stroke-width="0.14" >Ур. зем.</text>
<polyline points="785.20,322.60 745.30,322.60 745.30,332.40" fill="none" stroke="#222" stroke-width="0.9" />
<polyline points="742.50,327.20 745.30,332.40 748.10,327.20" fill="none" stroke="#222" stroke-width="0.9" />
<line x1="740.00" y1="332.40" x2="750.80" y2="332.40" stroke="#222" stroke-width="0.9" />
<text x="509.00" y="319.50" font-size="10.5" text-anchor="middle" stroke-width="0.14" >0.000</text>
<polyline points="526.80,322.40 490.20,322.40 490.20,332.20" fill="none" stroke="#222" stroke-width="0.9" />
<polyline points="487.40,327.00 490.20,332.20 493.00,327.00" fill="none" stroke="#222" stroke-width="0.9" />
<text x="526.60" y="183.30" font-size="10.5" text-anchor="start" stroke-width="0.14" >Состав 2</text>
<polyline points="525.30,189.30 581.30,189.30 581.30,242.50" fill="none" stroke="#111" stroke-width="1.1" />
<text x="537.70" y="314.80" font-size="10.5" text-anchor="start" stroke-width="0.14" >Состав 1</text>
<polyline points="535.00,317.50 590.60,317.50 590.60,350.00" fill="none" stroke="#111" stroke-width="1.1" />
</g>
<g id="texts" class="t">
<text x="377.00" y="162.60" font-size="15" text-anchor="start" stroke-width="0.2" font-style="italic">Разрез 1-1</text>
<line x1="376.60" y1="166.60" x2="452.40" y2="166.60" stroke="#222" stroke-width="1" />
<text x="951.60" y="91.00" font-size="15" text-anchor="start" stroke-width="0.2" font-style="italic">Состав 1</text>
<line x1="950.40" y1="94.40" x2="1018.80" y2="94.40" stroke="#222" stroke-width="1" />
<text x="950.60" y="373.70" font-size="15" text-anchor="start" stroke-width="0.2" font-style="italic">Состав 2</text>
<line x1="949.60" y1="377.00" x2="1018.20" y2="377.00" stroke="#222" stroke-width="1" />
<text x="825.00" y="129.60" font-size="12.92" text-anchor="start" stroke-width="0.2" >- Железобетонная&#160; монолитная плита</text>
<text x="832.60" y="145.20" font-size="12.92" text-anchor="start" stroke-width="0.2" >из бетона В 15 (М200)</text>
<text x="825.00" y="175.70" font-size="12.85" text-anchor="start" stroke-width="0.2" >- Сетка армирующая Ø3 100х100 мм</text>
<text x="825.00" y="206.60" font-size="12.92" text-anchor="start" stroke-width="0.2" >- PLANTER STANDART</text>
<text x="825.00" y="237.30" font-size="12.92" text-anchor="start" stroke-width="0.2" >- Подготовка из песка средней</text>
<text x="832.60" y="252.70" font-size="12.92" text-anchor="start" stroke-width="0.2" >крупности</text>
<text x="825.00" y="283.30" font-size="12.92" text-anchor="start" stroke-width="0.2" >- Грунт основания</text>
<text x="1086.60" y="145.20" font-size="12.9" text-anchor="start" stroke-width="0.2" >- 100 мм</text>
<text x="1082.60" y="206.60" font-size="12.9" text-anchor="start" stroke-width="0.2" >-&#160; 1 слой</text>
<text x="1081.60" y="252.70" font-size="12.9" text-anchor="start" stroke-width="0.2" >- 200 мм</text>
<text x="823.40" y="416.00" font-size="12.9" text-anchor="start" stroke-width="0.2" >- Мембрана ПВХ</text>
<text x="823.40" y="441.70" font-size="12.9" text-anchor="start" stroke-width="0.2" >- Геотекстиль</text>
<text x="823.40" y="467.90" font-size="12.9" text-anchor="start" stroke-width="0.2" >- Утеплитель ПЕНОПЛЭКС Y=30 кг/м3,</text>
<text x="831.00" y="480.40" font-size="12.9" text-anchor="start" stroke-width="0.2" >толщиной 50 мм</text>
<text x="823.40" y="506.70" font-size="12.9" text-anchor="start" stroke-width="0.2" >- Лист гипсоволокнистый влагостойкий,</text>
<text x="831.00" y="519.00" font-size="12.9" text-anchor="start" stroke-width="0.2" >t=12,5мм</text>
<text x="823.40" y="545.00" font-size="12.9" text-anchor="start" stroke-width="0.2" >- Пароизоляция для плоских кровель</text>
<text x="823.40" y="570.70" font-size="12.9" text-anchor="start" stroke-width="0.2" >- Профнастил Н 114х0.8 мм</text>
<text x="823.40" y="596.70" font-size="12.9" text-anchor="start" stroke-width="0.2" >- Металлическая балка</text>
<text x="1091.60" y="416.00" font-size="12.9" text-anchor="start" stroke-width="0.2" >- 1 слой</text>
<text x="1090.20" y="441.70" font-size="12.9" text-anchor="start" stroke-width="0.2" >- 1 слой</text>
<text x="1090.00" y="480.40" font-size="12.9" text-anchor="start" stroke-width="0.2" >- 3 слоя</text>
<text x="1092.80" y="545.00" font-size="12.9" text-anchor="start" stroke-width="0.2" >- 1 слой</text>
</g>
<g id="stamp" shape-rendering="crispEdges">
<line x1="656.00" y1="721.50" x2="1200.00" y2="721.50" stroke="#222" stroke-width="1" />
<line x1="656.00" y1="736.50" x2="855.50" y2="736.50" stroke="#333" stroke-width="1" />
<line x1="656.00" y1="751.50" x2="855.50" y2="751.50" stroke="#333" stroke-width="1" />
<line x1="656.00" y1="767.50" x2="855.50" y2="767.50" stroke="#333" stroke-width="1" />
<line x1="656.00" y1="782.50" x2="855.50" y2="782.50" stroke="#333" stroke-width="1" />
<line x1="656.00" y1="799.50" x2="855.50" y2="799.50" stroke="#222" stroke-width="1" />
<line x1="656.00" y1="813.50" x2="855.50" y2="813.50" stroke="#333" stroke-width="1" />
<line x1="656.00" y1="828.50" x2="855.50" y2="828.50" stroke="#333" stroke-width="1" />
<line x1="656.00" y1="843.50" x2="855.50" y2="843.50" stroke="#333" stroke-width="1" />
<line x1="656.00" y1="859.50" x2="855.50" y2="859.50" stroke="#333" stroke-width="1" />
<line x1="656.00" y1="874.50" x2="855.50" y2="874.50" stroke="#333" stroke-width="1" />
<line x1="656.50" y1="721.00" x2="656.50" y2="890.00" stroke="#222" stroke-width="1" />
<line x1="717.50" y1="721.00" x2="717.50" y2="890.00" stroke="#222" stroke-width="1" />
<line x1="778.50" y1="721.00" x2="778.50" y2="890.00" stroke="#222" stroke-width="1" />
<line x1="824.50" y1="721.00" x2="824.50" y2="890.00" stroke="#222" stroke-width="1" />
<line x1="855.50" y1="721.00" x2="855.50" y2="890.00" stroke="#222" stroke-width="1" />
<line x1="686.50" y1="721.00" x2="686.50" y2="799.50" stroke="#555" stroke-width="1" />
<line x1="747.50" y1="721.00" x2="747.50" y2="799.50" stroke="#777" stroke-width="1" />
<line x1="855.50" y1="751.50" x2="1200.00" y2="751.50" stroke="#222" stroke-width="1" />
<line x1="855.50" y1="799.50" x2="1200.00" y2="799.50" stroke="#222" stroke-width="1" />
<line x1="855.50" y1="843.50" x2="1200.00" y2="843.50" stroke="#222" stroke-width="1" />
<line x1="1069.50" y1="799.50" x2="1069.50" y2="890.00" stroke="#222" stroke-width="1" />
<line x1="1115.50" y1="799.50" x2="1115.50" y2="843.50" stroke="#222" stroke-width="1" />
<line x1="1161.50" y1="799.50" x2="1161.50" y2="843.50" stroke="#222" stroke-width="1" />
<line x1="1069.50" y1="815.50" x2="1200.00" y2="815.50" stroke="#222" stroke-width="1" />
</g>
<g id="stamptext" class="t">
<text x="659.80" y="795.00" font-size="12.7" text-anchor="start" stroke-width="0.2" >Изм.</text>
<text x="688.00" y="795.00" font-size="12.7" text-anchor="start" stroke-width="0.2" >Кол.</text>
<text x="718.30" y="795.00" font-size="12.5" text-anchor="start" stroke-width="0.2" >Лист</text>
<text x="748.30" y="795.40" font-size="10.1" text-anchor="start" stroke-width="0.15" >№док.</text>
<text x="781.80" y="795.00" font-size="12.7" text-anchor="start" stroke-width="0.2" >Подп.</text>
<text x="824.60" y="795.00" font-size="12.7" text-anchor="start" stroke-width="0.2" >Дата</text>
<text x="658.60" y="823.80" font-size="9.7" text-anchor="start" stroke-width="0.05" >Разработал</text>
<text x="658.60" y="854.30" font-size="9.7" text-anchor="start" stroke-width="0.05" >Н. контр.</text>
<text x="658.60" y="870.50" font-size="9.7" text-anchor="start" stroke-width="0.05" >ГИП</text>
<text x="938.60" y="866.30" font-size="10.7" text-anchor="start" stroke-width="0.05" >Разрез 1-1</text>
<text x="1071.00" y="812.60" font-size="12.8" text-anchor="start" stroke-width="0.2" >Стадия</text>
<text x="1123.60" y="812.60" font-size="12.8" text-anchor="start" stroke-width="0.2" >Лист</text>
<text x="1167.80" y="812.60" font-size="12.8" text-anchor="start" stroke-width="0.2" >Листов</text>
<text x="1084.20" y="833.80" font-size="12.8" text-anchor="start" stroke-width="0.2" >ЭП</text>
<text x="1132.60" y="834.30" font-size="14" text-anchor="start" stroke-width="0.2" >4</text>
<text x="1104.40" y="870.80" font-size="12.8" text-anchor="start" stroke-width="0.2" >ООО "Альянс"</text>
</g>
</svg></body></html>
